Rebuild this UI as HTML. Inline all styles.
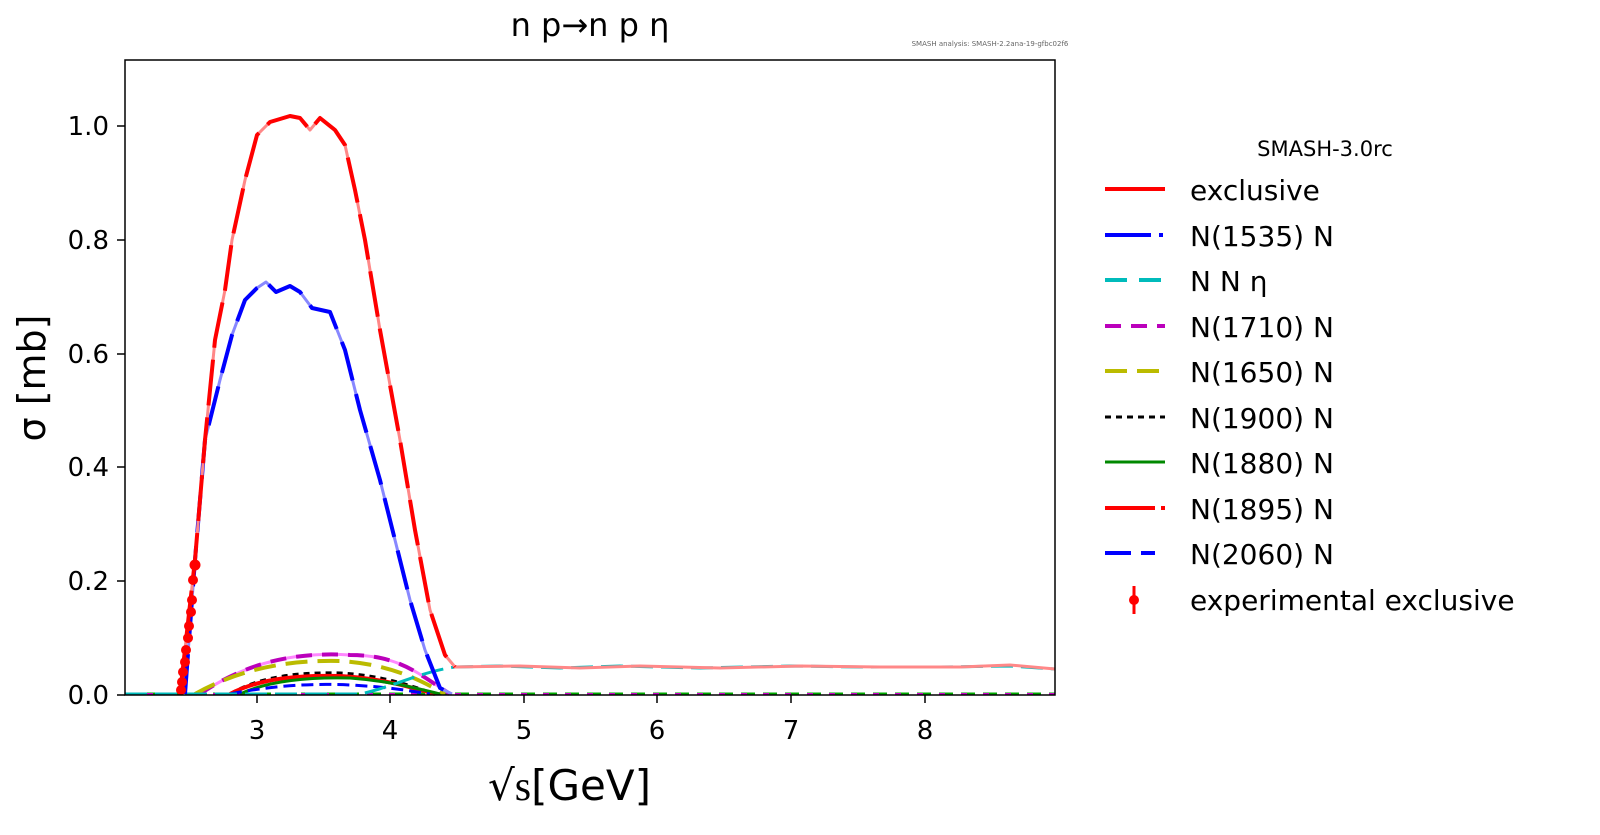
<!DOCTYPE html>
<html><head><meta charset="utf-8"><style>body{margin:0;background:#fff}svg{display:block}text{font-family:"DejaVu Sans","Liberation Sans",sans-serif}</style></head><body>
<svg width="1600" height="835" viewBox="0 0 1600 835" xmlns="http://www.w3.org/2000/svg">
<rect width="1600" height="835" fill="#fff"/>
<text x="590" y="36" font-size="32" text-anchor="middle">n p→n p η</text>
<text x="990" y="46" font-size="7" fill="#666" text-anchor="middle">SMASH analysis: SMASH-2.2ana-19-gfbc02f6</text>
<g fill="none" stroke-linejoin="round">
<path d="M125,694 H1055" stroke="#0a0" stroke-width="3" stroke-dasharray="14 8"/>
<path d="M125,694 H1055" stroke="#c0c" stroke-width="2" stroke-dasharray="6 16"/>
<path d="M200,694 C250,660 300,652 350,655 C400,655 420,675 450,694" stroke="#f8f" stroke-width="3"/>
<path d="M200,694 C250,660 300,652 350,655 C400,655 420,675 450,694" stroke="#b0b" stroke-width="4" stroke-dasharray="16 10"/>
<path d="M195,694 C245,666 295,660 340,661 C390,664 420,680 445,694" stroke="#bb0" stroke-width="4" stroke-dasharray="22 10"/>
<path d="M230,694 C260,676 300,672 340,673 C380,675 410,685 435,694" stroke="#000" stroke-width="3" stroke-dasharray="6 5"/>
<path d="M230,694 C260,678 300,675 340,676 C380,678 410,687 435,694" stroke="#f00" stroke-width="4"/>
<path d="M240,694 C270,680 310,677 350,678 C390,681 415,688 440,694" stroke="#080" stroke-width="3"/>
<path d="M230,694 C270,686 310,683 350,685 C390,687 410,691 430,694" stroke="#00f" stroke-width="3" stroke-dasharray="12 6"/>
<path d="M125,694 H360 C390,688 420,672 455,667 L500,666 L560,668 L620,666 L700,668 L790,666 L860,667 L940,667 L1010,666 L1055,669" stroke="#0bb" stroke-width="3" stroke-dasharray="22 8"/>
<path d="M185,694 L195,560 L205,440 L220,380 L232,335 L245,300 L257,288 L266,282 L276,292 L290,286 L300,292 L312,308 L330,312 L345,350 L360,410 L380,480 L395,540 L410,600 L425,650 L440,688 L452,694" stroke="#88f" stroke-width="3"/>
<path d="M185,694 L195,560 L205,440 L220,380 L232,335 L245,300 L257,288 L266,282 L276,292 L290,286 L300,292 L312,308 L330,312 L345,350 L360,410 L380,480 L395,540 L410,600 L425,650 L440,688 L452,694" stroke="#00f" stroke-width="4" stroke-dasharray="40 14"/>
<path d="M180,694 L195,560 L205,440 L215,340 L225,290 L232,240 L245,180 L257,135 L270,122 L290,116 L300,118 L310,130 L320,118 L335,130 L345,145 L355,190 L365,240 L380,330 L400,440 L415,530 L430,610 L445,655 L455,667 L520,666 L580,668 L640,666 L720,668 L800,666 L880,667 L960,667 L1010,665 L1055,669" stroke="#f88" stroke-width="3"/>
<path d="M180,694 L195,560 L205,440 L215,340 L225,290 L232,240 L245,180 L257,135 L270,122 L290,116 L300,118 L310,130 L320,118 L335,130 L345,145 L355,190 L365,240 L380,330 L400,440 L415,530 L430,610 L445,655 L455,667" stroke="#f00" stroke-width="4" stroke-dasharray="46 12"/>
</g>
<g fill="#f00">
<circle cx="181" cy="690" r="5"/><circle cx="182" cy="682" r="5"/><circle cx="183" cy="672" r="5"/><circle cx="185" cy="662" r="5"/><circle cx="186" cy="650" r="5"/><circle cx="188" cy="638" r="5"/><circle cx="189" cy="626" r="5"/><circle cx="191" cy="612" r="5"/><circle cx="192" cy="600" r="5"/><circle cx="193" cy="580" r="5"/><circle cx="195" cy="565" r="5.5"/>
</g>
<rect x="125" y="60" width="930" height="635" fill="none" stroke="#000" stroke-width="1.5"/>
<g stroke="#000" stroke-width="1.5">
<line x1="117" y1="695" x2="125" y2="695"/><line x1="117" y1="581" x2="125" y2="581"/><line x1="117" y1="467" x2="125" y2="467"/><line x1="117" y1="354" x2="125" y2="354"/><line x1="117" y1="240" x2="125" y2="240"/><line x1="117" y1="126" x2="125" y2="126"/>
<line x1="257" y1="695" x2="257" y2="703"/><line x1="390" y1="695" x2="390" y2="703"/><line x1="524" y1="695" x2="524" y2="703"/><line x1="657" y1="695" x2="657" y2="703"/><line x1="791" y1="695" x2="791" y2="703"/><line x1="925" y1="695" x2="925" y2="703"/>
</g>
<g font-size="26" text-anchor="end">
<text x="109" y="704">0.0</text><text x="109" y="590">0.2</text><text x="109" y="476">0.4</text><text x="109" y="363">0.6</text><text x="109" y="249">0.8</text><text x="109" y="135">1.0</text>
</g>
<g font-size="26" text-anchor="middle">
<text x="257" y="739">3</text><text x="390" y="739">4</text><text x="524" y="739">5</text><text x="657" y="739">6</text><text x="791" y="739">7</text><text x="925" y="739">8</text>
</g>
<text transform="translate(45,378) rotate(-90)" font-size="38" text-anchor="middle">σ [mb]</text>
<text x="488" y="800" font-size="42">√<tspan font-family="Liberation Serif">s</tspan>[GeV]</text>
<text x="1325" y="156" font-size="21" text-anchor="middle">SMASH-3.0rc</text>
<g stroke-width="4" fill="none">
<line x1="1105" y1="189" x2="1165" y2="189" stroke="#f00"/>
<line x1="1105" y1="235" x2="1165" y2="235" stroke="#00f" stroke-dasharray="46 8 4 8"/>
<line x1="1105" y1="280" x2="1165" y2="280" stroke="#0bb" stroke-dasharray="22 12"/>
<line x1="1105" y1="326" x2="1165" y2="326" stroke="#b0b" stroke-dasharray="16 10"/>
<line x1="1105" y1="371" x2="1165" y2="371" stroke="#bb0" stroke-dasharray="22 10"/>
<line x1="1105" y1="417" x2="1165" y2="417" stroke="#000" stroke-width="3" stroke-dasharray="6 5"/>
<line x1="1105" y1="462" x2="1165" y2="462" stroke="#080" stroke-width="3"/>
<line x1="1105" y1="508" x2="1165" y2="508" stroke="#f00" stroke-dasharray="50 6 4 6"/>
<line x1="1105" y1="553" x2="1165" y2="553" stroke="#00f" stroke-dasharray="26 10 14 10"/>
<line x1="1134" y1="586" x2="1134" y2="614" stroke="#f00" stroke-width="3"/>
</g>
<circle cx="1134" cy="600" r="5" fill="#f00"/>
<g font-size="28">
<text x="1190" y="200">exclusive</text><text x="1190" y="246">N(1535) N</text><text x="1190" y="291">N N η</text><text x="1190" y="337">N(1710) N</text><text x="1190" y="382">N(1650) N</text><text x="1190" y="428">N(1900) N</text><text x="1190" y="473">N(1880) N</text><text x="1190" y="519">N(1895) N</text><text x="1190" y="564">N(2060) N</text><text x="1190" y="610">experimental exclusive</text>
</g>
</svg>
</body></html>
